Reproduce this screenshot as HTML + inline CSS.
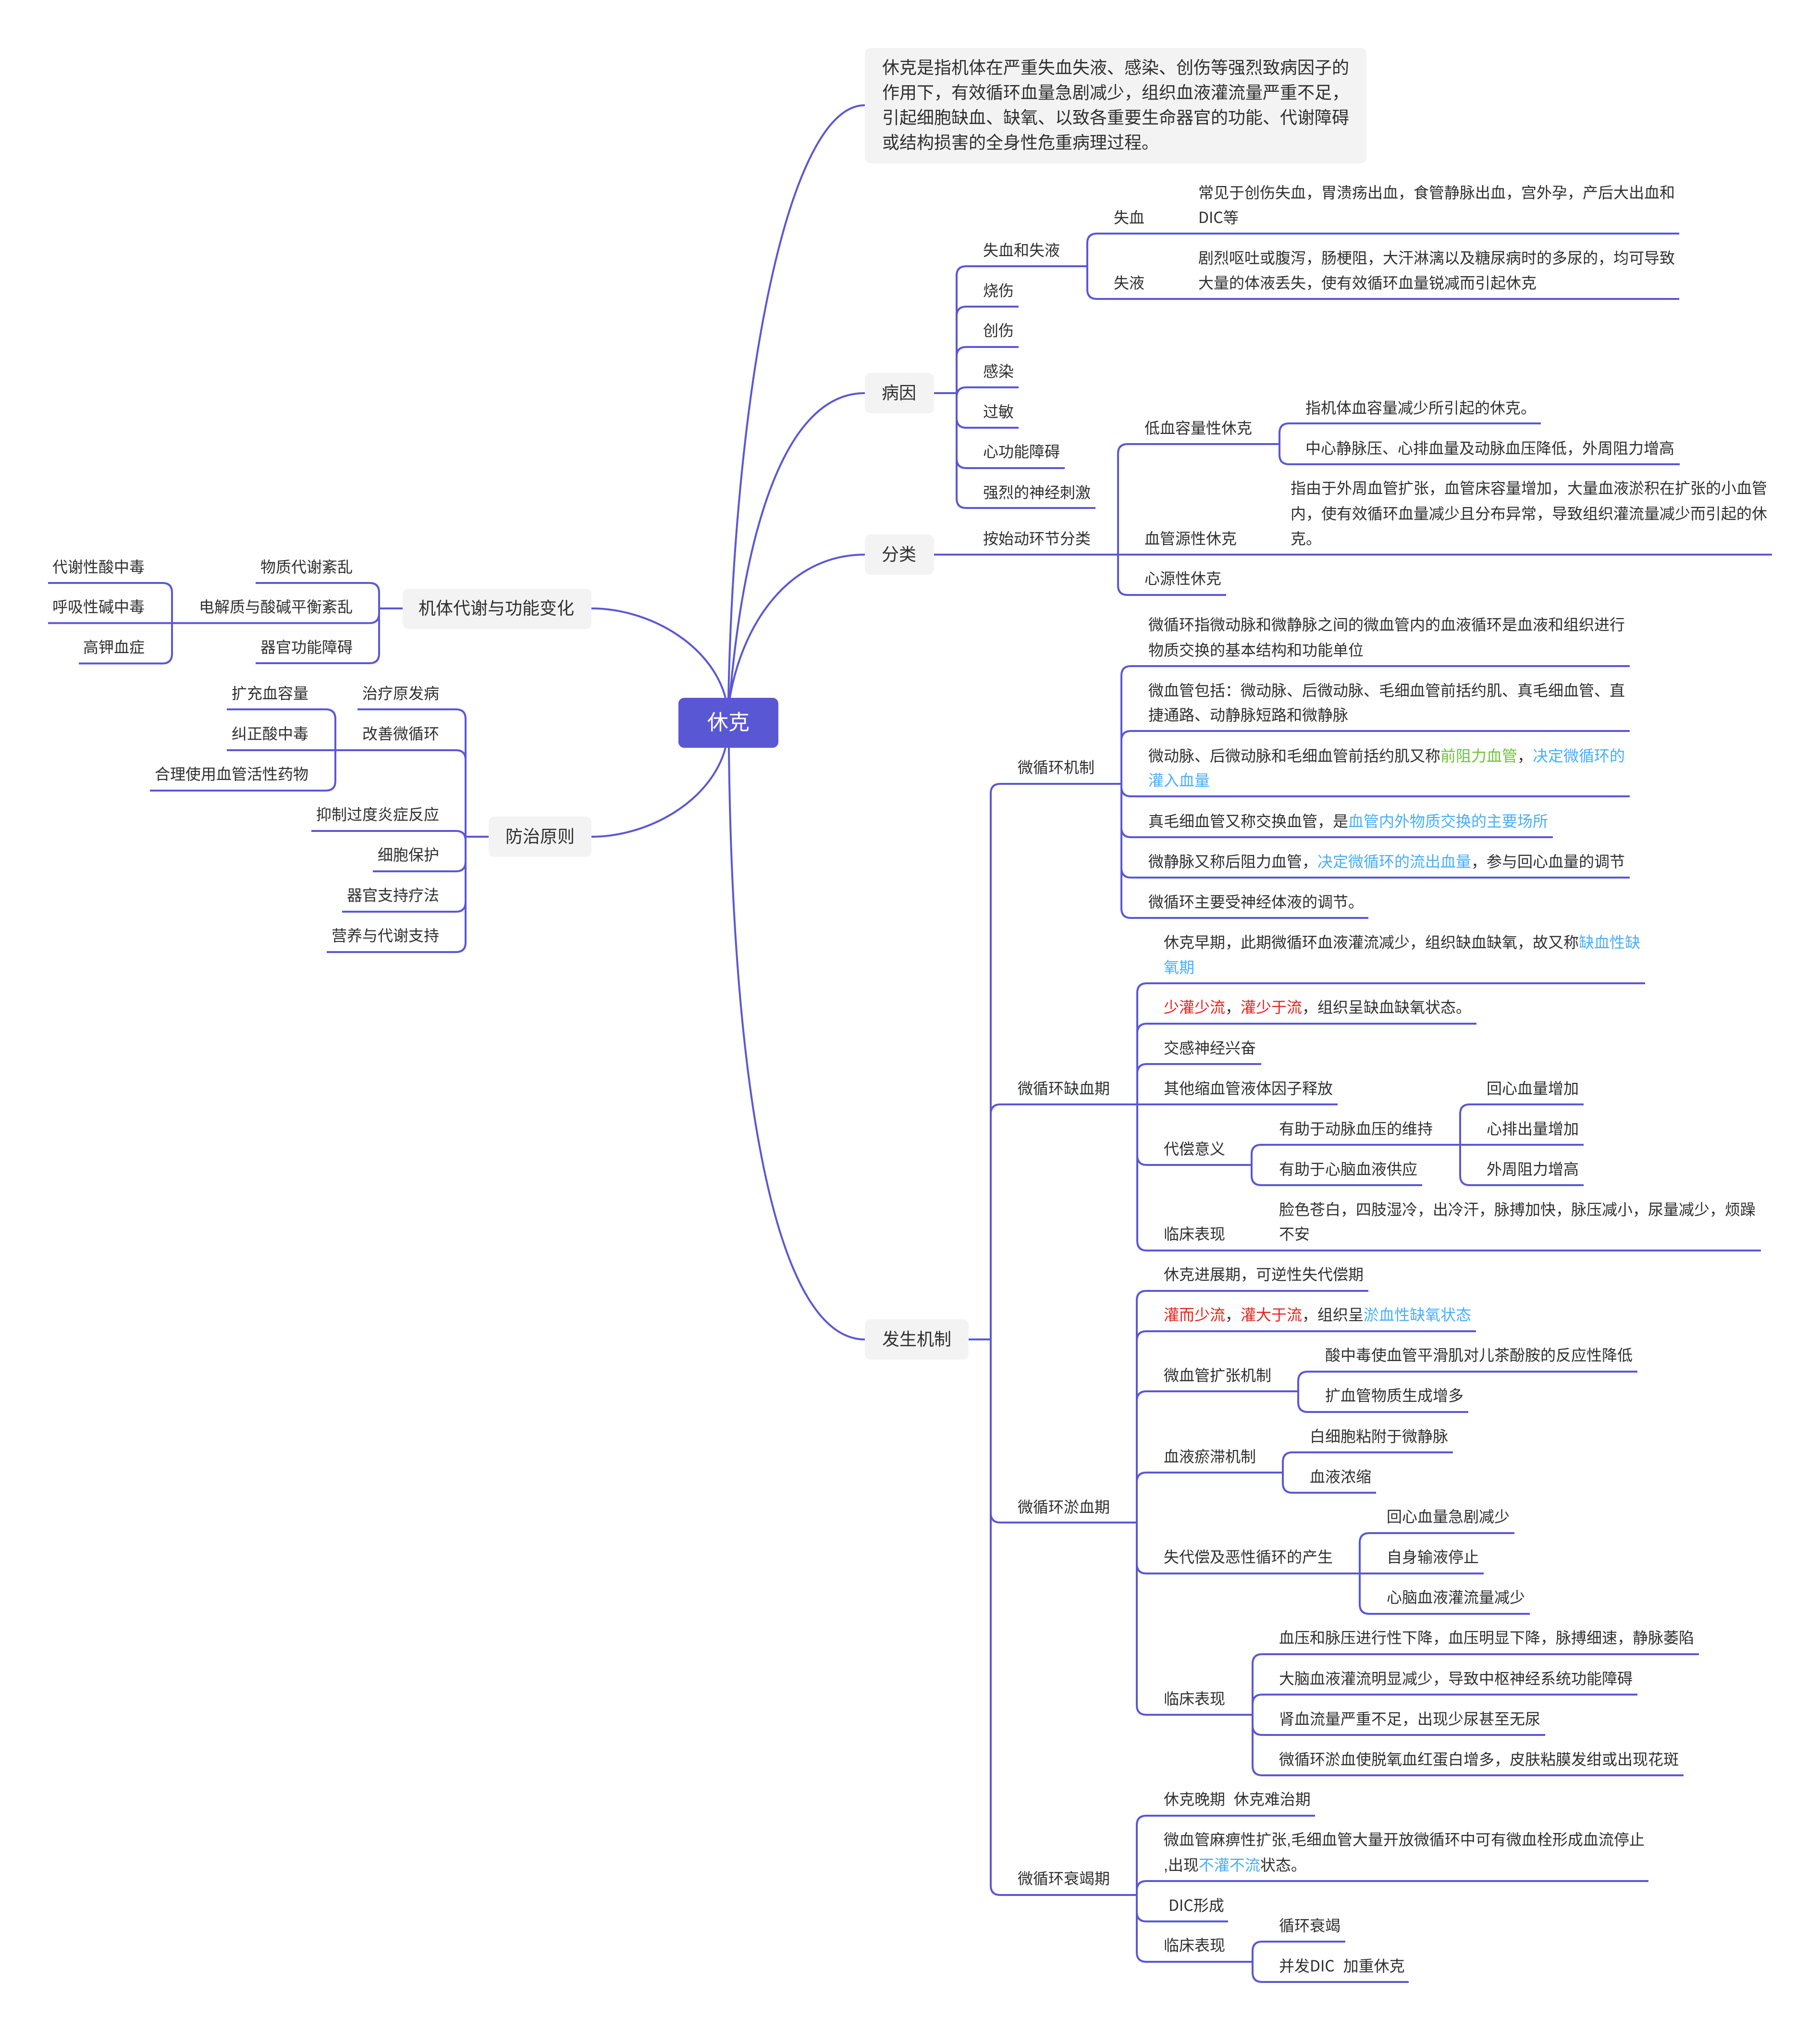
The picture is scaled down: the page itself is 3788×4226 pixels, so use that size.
<!DOCTYPE html>
<html lang="zh-CN">
<head>
<meta charset="utf-8">
<title>休克</title>
<style>
html,body{margin:0;padding:0;background:#fff;}
svg{display:block;}
text{font-family:"Liberation Sans","Noto Sans CJK SC",sans-serif;font-size:32px;fill:#2f2f2f;}
.b{font-size:36px;}
.bl{fill:#47aefb;}
.gr{fill:#6cc535;}
.rd{fill:#e5231d;}
.n{font-family:"Noto Sans CJK SC",sans-serif;}
path{fill:none;stroke:#5a57d5;stroke-width:4;}
</style>
</head>
<body>
<svg xmlns="http://www.w3.org/2000/svg" width="3788" height="4226" viewBox="0 0 3788 4226">
<!-- root curves -->
<path d="M1516 1452C1530 800 1640 219 1800 219"/>
<path d="M1519 1452C1545 1150 1620 818 1800 818"/>
<path d="M1519 1452C1545 1300 1640 1154 1800 1154"/>
<path d="M1517 1556C1525 2300 1620 2787 1800 2787"/>
<path d="M1231 1266C1350 1266 1480 1340 1510 1452"/>
<path d="M1231 1741C1350 1741 1480 1667 1510 1556"/>
<!-- boxes -->
<rect x="1412" y="1452" width="208" height="104" rx="12" fill="#5a57d5"/>
<rect x="1800" y="100" width="1044" height="240" rx="12" fill="#f3f3f3"/>
<rect x="1800" y="776" width="144" height="84" rx="12" fill="#f3f3f3"/>
<rect x="1800" y="1112" width="144" height="84" rx="12" fill="#f3f3f3"/>
<rect x="1800" y="2745" width="216" height="84" rx="12" fill="#f3f3f3"/>
<rect x="838" y="1225" width="393" height="84" rx="12" fill="#f3f3f3"/>
<rect x="1017" y="1699" width="214" height="84" rx="12" fill="#f3f3f3"/>

<!-- left: 机体 -->
<path d="M838 1266H789"/>
<path d="M532 1213H769Q789 1213 789 1233V1360Q789 1380 769 1380H532"/>
<path d="M405 1296.500H769Q789 1296.500 789 1276"/>
<path d="M100 1213H338Q358 1213 358 1233V1360Q358 1380.500 338 1380.500H164"/>
<path d="M100 1296.500H405"/>
<!-- left: 防治 -->
<path d="M1017 1741H969"/>
<path d="M744 1476H949Q969 1476 969 1496V1961Q969 1981 949 1981H680"/>
<path d="M472 1561H949Q969 1561 969 1581"/>
<path d="M648 1729H949Q969 1729 969 1749"/>
<path d="M776 1813H949Q969 1813 969 1793"/>
<path d="M712 1897H949Q969 1897 969 1877"/>
<path d="M472 1476H678Q698 1476 698 1496V1625Q698 1645 678 1645H312"/>

<!-- 病因 -->
<path d="M1944 818H1991"/>
<path d="M2263 554H2011Q1991 554 1991 574V1037Q1991 1057 2011 1057H2280"/>
<path d="M2120 638H2011Q1991 638 1991 658"/>
<path d="M2120 722H2011Q1991 722 1991 742"/>
<path d="M2120 806H2011Q1991 806 1991 826"/>
<path d="M2120 890H2011Q1991 890 1991 870"/>
<path d="M2216 974H2011Q1991 974 1991 954"/>
<path d="M3495 486H2283Q2263 486 2263 506V602Q2263 622 2283 622H3495"/>

<!-- 分类 -->
<path d="M1944 1154H3688"/>
<path d="M2663 924H2347Q2327 924 2327 944V1218Q2327 1238 2347 1238H2552"/>
<path d="M3207 881H2683Q2663 881 2663 901V946Q2663 966 2683 966H3496"/>

<!-- 发生机制 -->
<path d="M2016 2787H2062"/>
<path d="M2334 1631H2082Q2062 1631 2062 1651V3923Q2062 3943 2082 3943H2366"/>
<path d="M2784 2298H2082Q2062 2298 2062 2318"/>
<path d="M2366 3168H2082Q2062 3168 2062 3148"/>

<!-- 微循环机制 -->
<path d="M3392 1386H2354Q2334 1386 2334 1406V1890Q2334 1910 2354 1910H2848"/>
<path d="M3392 1521H2354Q2334 1521 2334 1541"/>
<path d="M3392 1657H2354Q2334 1657 2334 1637"/>
<path d="M3232 1742H2354Q2334 1742 2334 1722"/>
<path d="M3392 1826H2354Q2334 1826 2334 1806"/>

<!-- 缺血期 -->
<path d="M3424 2046H2387Q2367 2046 2367 2066V2582Q2367 2602 2387 2602H3665"/>
<path d="M3073 2130H2387Q2367 2130 2367 2150"/>
<path d="M2625 2214H2387Q2367 2214 2367 2234"/>
<path d="M2605 2424H2387Q2367 2424 2367 2404"/>
<path d="M3296 2382H2625Q2605 2382 2605 2402V2446Q2605 2466 2625 2466H2960"/>
<path d="M3296 2298H3059Q3039 2298 3039 2318V2446Q3039 2466 3059 2466H3296"/>

<!-- 淤血期 -->
<path d="M2848 2686H2386Q2366 2686 2366 2706V3548Q2366 3568 2386 3568H2607"/>
<path d="M3072 2770H2386Q2366 2770 2366 2790"/>
<path d="M2702 2895H2386Q2366 2895 2366 2915"/>
<path d="M2670 3064H2386Q2366 3064 2366 3084"/>
<path d="M3088 3274H2386Q2366 3274 2366 3254"/>
<path d="M3408 2854H2722Q2702 2854 2702 2874V2918Q2702 2938 2722 2938H3056"/>
<path d="M3024 3022H2690Q2670 3022 2670 3042V3086Q2670 3106 2690 3106H2864"/>
<path d="M3152 3190H2850Q2830 3190 2830 3210V3338Q2830 3358 2850 3358H3184"/>
<path d="M3536 3442H2627Q2607 3442 2607 3462V3674Q2607 3694 2627 3694H3504"/>
<path d="M3408 3526H2627Q2607 3526 2607 3546"/>
<path d="M3216 3610H2627Q2607 3610 2607 3590"/>

<!-- 衰竭期 -->
<path d="M2737 3778H2386Q2366 3778 2366 3798V4062Q2366 4082 2386 4082H2607"/>
<path d="M3431 3914H2386Q2366 3914 2366 3934"/>
<path d="M2556 3998H2386Q2366 3998 2366 3978"/>
<path d="M2800 4040H2627Q2607 4040 2607 4060V4104Q2607 4124 2627 4124H2932"/>

<!-- texts -->
<text x="1472" y="1518" style="font-size:44px;fill:#fff">休克</text>
<text class="b" x="1836" y="153">休克是指机体在严重失血失液、感染、创伤等强烈致病因子的</text>
<text class="b" x="1836" y="205">作用下，有效循环血量急剧减少，组织血液灌流量严重不足，</text>
<text class="b" x="1836" y="257">引起细胞缺血、缺氧、以致各重要生命器官的功能、代谢障碍</text>
<text class="b" x="1836" y="309">或结构损害的全身性危重病理过程。</text>
<text class="b" x="1835" y="830">病因</text>
<text class="b" x="1835" y="1166">分类</text>
<text class="b" x="1836" y="2799">发生机制</text>
<text class="b" x="871" y="1278">机体代谢与功能变化</text>
<text class="b" x="1052" y="1753">防治原则</text>

<text x="109" y="1191">代谢性酸中毒</text>
<text x="109" y="1274">呼吸性碱中毒</text>
<text x="173" y="1358">高钾血症</text>
<text x="542" y="1191">物质代谢紊乱</text>
<text x="414" y="1274">电解质与酸碱平衡紊乱</text>
<text x="542" y="1358">器官功能障碍</text>
<text x="754" y="1454">治疗原发病</text>
<text x="754" y="1538">改善微循环</text>
<text x="658" y="1706">抑制过度炎症反应</text>
<text x="786" y="1790">细胞保护</text>
<text x="722" y="1874">器官支持疗法</text>
<text x="690" y="1958">营养与代谢支持</text>
<text x="482" y="1454">扩充血容量</text>
<text x="482" y="1538">纠正酸中毒</text>
<text x="322" y="1622">合理使用血管活性药物</text>

<text x="2046" y="532">失血和失液</text>
<text x="2046" y="616">烧伤</text>
<text x="2046" y="699">创伤</text>
<text x="2046" y="784">感染</text>
<text x="2046" y="868">过敏</text>
<text x="2046" y="951">心功能障碍</text>
<text x="2046" y="1036">强烈的神经刺激</text>
<text x="2318" y="464">失血</text>
<text x="2318" y="600">失液</text>
<text x="2494" y="412">常见于创伤失血，胃溃疡出血，食管静脉出血，宫外孕，产后大出血和</text>
<text x="2494" y="464"><tspan class="n">DIC</tspan>等</text>
<text x="2494" y="548">剧烈呕吐或腹泻，肠梗阻，大汗淋漓以及糖尿病时的多尿的，均可导致</text>
<text x="2494" y="600">大量的体液丢失，使有效循环血量锐减而引起休克</text>

<text x="2046" y="1132">按始动环节分类</text>
<text x="2382" y="902">低血容量性休克</text>
<text x="2382" y="1132">血管源性休克</text>
<text x="2382" y="1215">心源性休克</text>
<text x="2717" y="860">指机体血容量减少所引起的休克。</text>
<text x="2717" y="944">中心静脉压、心排血量及动脉血压降低，外周阻力增高</text>
<text x="2686" y="1027">指由于外周血管扩张，血管床容量增加，大量血液淤积在扩张的小血管</text>
<text x="2686" y="1080">内，使有效循环血量减少且分布异常，导致组织灌流量减少而引起的休</text>
<text x="2686" y="1132">克。</text>

<text x="2118" y="1608">微循环机制</text>
<text x="2390" y="1311">微循环指微动脉和微静脉之间的微血管内的血液循环是血液和组织进行</text>
<text x="2390" y="1364">物质交换的基本结构和功能单位</text>
<text x="2390" y="1448">微血管包括：微动脉、后微动脉、毛细血管前括约肌、真毛细血管、直</text>
<text x="2390" y="1499">捷通路、动静脉短路和微静脉</text>
<text x="2390" y="1584">微动脉、后微动脉和毛细血管前括约肌又称<tspan class="gr">前阻力血管</tspan>，<tspan class="bl">决定微循环的</tspan></text>
<text x="2390" y="1635" class="bl">灌入血量</text>
<text x="2390" y="1720">真毛细血管又称交换血管，是<tspan class="bl">血管内外物质交换的主要场所</tspan></text>
<text x="2390" y="1804">微静脉又称后阻力血管，<tspan class="bl">决定微循环的流出血量</tspan>，参与回心血量的调节</text>
<text x="2390" y="1888">微循环主要受神经体液的调节。</text>

<text x="2118" y="2276">微循环缺血期</text>
<text x="2422" y="1972">休克早期，此期微循环血液灌流减少，组织缺血缺氧，故又称<tspan class="bl">缺血性缺</tspan></text>
<text x="2422" y="2024" class="bl">氧期</text>
<text x="2422" y="2107"><tspan class="rd">少灌少流</tspan>，<tspan class="rd">灌少于流</tspan>，组织呈缺血缺氧状态。</text>
<text x="2422" y="2192">交感神经兴奋</text>
<text x="2422" y="2276">其他缩血管液体因子释放</text>
<text x="2422" y="2402">代偿意义</text>
<text x="2422" y="2579">临床表现</text>
<text x="2662" y="2360">有助于动脉血压的维持</text>
<text x="2662" y="2444">有助于心脑血液供应</text>
<text x="3094" y="2276">回心血量增加</text>
<text x="3094" y="2360">心排出量增加</text>
<text x="3094" y="2444">外周阻力增高</text>
<text x="2662" y="2528">脸色苍白，四肢湿冷，出冷汗，脉搏加快，脉压减小，尿量减少，烦躁</text>
<text x="2662" y="2579">不安</text>

<text x="2118" y="3147">微循环淤血期</text>
<text x="2422" y="2663">休克进展期，可逆性失代偿期</text>
<text x="2422" y="2747"><tspan class="rd">灌而少流</tspan>，<tspan class="rd">灌大于流</tspan>，组织呈<tspan class="bl">淤血性缺氧状态</tspan></text>
<text x="2422" y="2873">微血管扩张机制</text>
<text x="2758" y="2831">酸中毒使血管平滑肌对儿茶酚胺的反应性降低</text>
<text x="2758" y="2915">扩血管物质生成增多</text>
<text x="2422" y="3042">血液瘀滞机制</text>
<text x="2726" y="3000">白细胞粘附于微静脉</text>
<text x="2726" y="3084">血液浓缩</text>
<text x="2422" y="3251">失代偿及恶性循环的产生</text>
<text x="2886" y="3167">回心血量急剧减少</text>
<text x="2886" y="3251">自身输液停止</text>
<text x="2886" y="3335">心脑血液灌流量减少</text>
<text x="2422" y="3546">临床表现</text>
<text x="2662" y="3419">血压和脉压进行性下降，血压明显下降，脉搏细速，静脉萎陷</text>
<text x="2662" y="3504">大脑血液灌流明显减少，导致中枢神经系统功能障碍</text>
<text x="2662" y="3588">肾血流量严重不足，出现少尿甚至无尿</text>
<text x="2662" y="3672">微循环淤血使脱氧血红蛋白增多，皮肤粘膜发绀或出现花斑</text>

<text x="2118" y="3920">微循环衰竭期</text>
<text x="2422" y="3755" xml:space="preserve">休克晚期  休克难治期</text>
<text x="2422" y="3839">微血管麻痹性扩张,毛细血管大量开放微循环中可有微血栓形成血流停止</text>
<text x="2422" y="3892">,出现<tspan class="bl">不灌不流</tspan>状态。</text>
<text x="2432" y="3976"><tspan class="n">DIC</tspan>形成</text>
<text x="2422" y="4059">临床表现</text>
<text x="2662" y="4018">循环衰竭</text>
<text x="2662" y="4102" xml:space="preserve">并发<tspan class="n">DIC</tspan>  加重休克</text>
</svg>
</body>
</html>
